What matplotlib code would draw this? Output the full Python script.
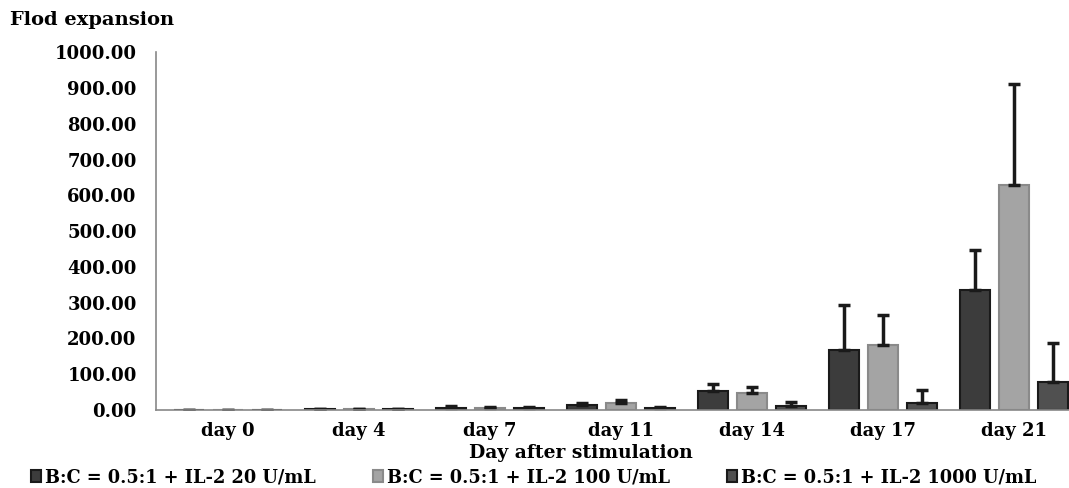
import numpy as np
import matplotlib.pyplot as plt

# Fold expansion per day, three culture conditions
days = ['day 0', 'day 4', 'day 7', 'day 11', 'day 14', 'day 17', 'day 21']
labels = ['B:C = 0.5:1 + IL-2 20 U/mL',
          'B:C = 0.5:1 + IL-2 100 U/mL',
          'B:C = 0.5:1 + IL-2 1000 U/mL']
il2_20 = [1, 2, 6, 14, 53, 168, 335]
il2_20_err = [0, 1, 4, 6, 20, 125, 112]
il2_100 = [1, 2, 5, 19, 47, 182, 628]
il2_100_err = [0, 1, 4, 8, 17, 83, 283]
il2_1000 = [1, 2, 6, 5, 12, 20, 78]
il2_1000_err = [0, 1, 1, 3, 10, 36, 109]

plt.rcParams['font.family'] = ['DejaVu Serif']
plt.rcParams['font.weight'] = 'bold'
plt.rcParams['axes.labelweight'] = 'bold'

fig = plt.figure(figsize=(10.69, 4.88), dpi=100)
ax = fig.add_axes([0.146, 0.160, 0.854, 0.733])

x = np.arange(len(days))
w = 0.23
step = 0.30
colors = ['#3c3c3c', '#a4a4a4', '#505050']
edges = ['#1a1a1a', '#8a8a8a', '#1a1a1a']
series = [(il2_20, il2_20_err), (il2_100, il2_100_err), (il2_1000, il2_1000_err)]
for i, (vals, err) in enumerate(series):
    ax.bar(x + (i - 1) * step, vals, w, color=colors[i], edgecolor=edges[i],
           linewidth=1.5, label=labels[i],
           yerr=[np.zeros(len(vals)), err],
           error_kw=dict(ecolor='#1a1a1a', elinewidth=2.5, capsize=4, capthick=2.5))

ax.set_xlim(-0.55, 6.42)
ax.set_ylim(0, 1000)
ax.set_yticks(np.arange(0, 1001, 100))
ax.set_yticklabels([f'{v:.2f}' for v in np.arange(0, 1001, 100)], fontsize=13)
ax.set_xticks(x)
ax.set_xticklabels(days, fontsize=13)
ax.tick_params(length=0, pad=9)
ax.tick_params(axis='y', pad=14)
for s in ['top', 'right']:
    ax.spines[s].set_visible(False)
for s in ['left', 'bottom']:
    ax.spines[s].set_color('#888888')
    ax.spines[s].set_linewidth(1.2)

fig.text(0.543, 0.061, 'Day after stimulation', fontsize=13.5, ha='center', va='baseline')
fig.text(0.009, 0.958, 'Flod expansion', fontsize=14, ha='left', va='center')

fig.legend(loc='center', bbox_to_anchor=(0.499, 0.022), ncol=3, frameon=False,
           fontsize=12.8, handlelength=0.6, handleheight=0.6, handletextpad=0.2,
           columnspacing=3.2, borderpad=0)

fig.savefig('out.png', dpi=100)
